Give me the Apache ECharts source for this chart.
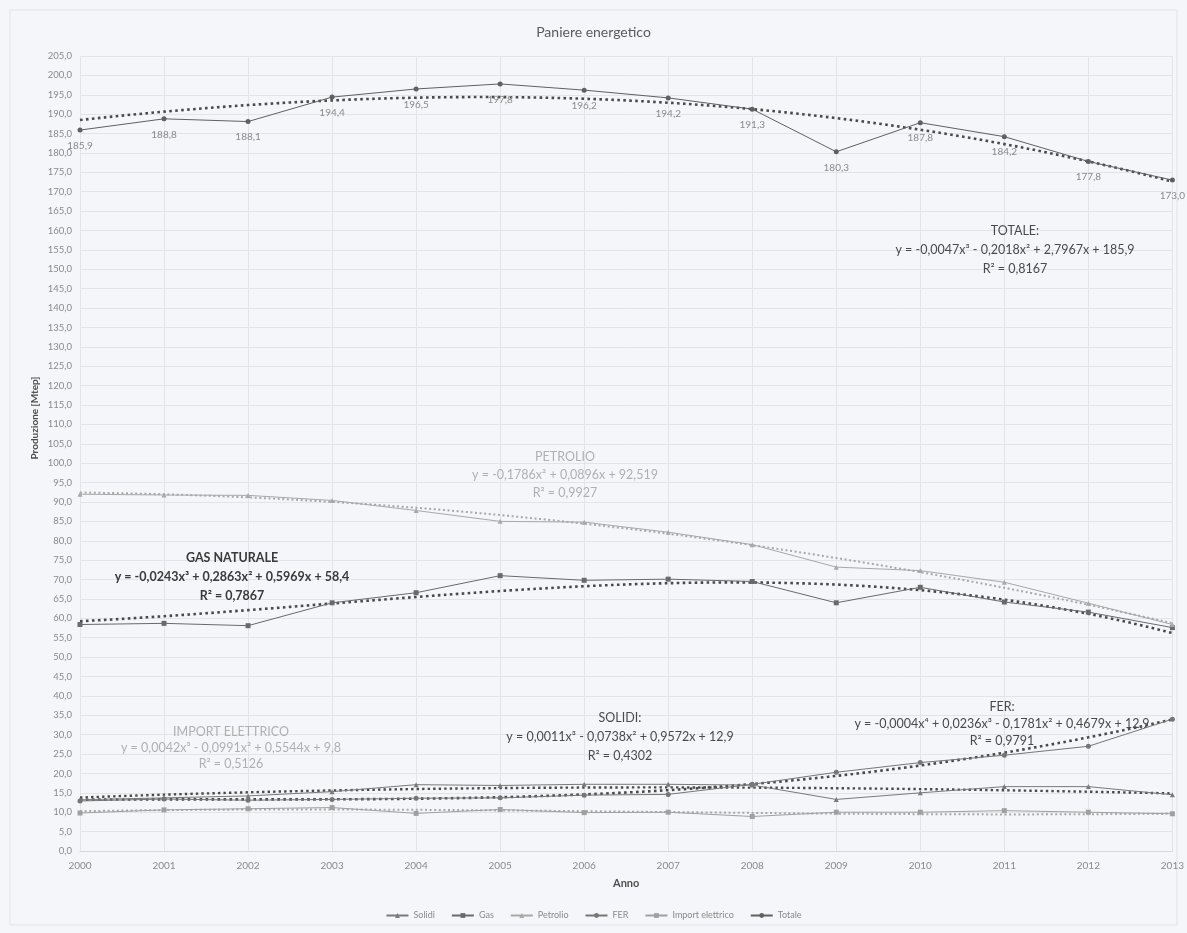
<!DOCTYPE html>
<html>
<head>
<meta charset="utf-8">
<title>Paniere energetico</title>
<script src="https://cdn.jsdelivr.net/npm/echarts@6/dist/echarts.min.js"></script>
<style>
  html, body { margin: 0; padding: 0; background: #f5f6fa; }
  #chart { width: 1187px; height: 933px; }
</style>
</head>
<body>
<div id="chart"></div>
<script>
// Anni (asse X)
const years = [2000, 2001, 2002, 2003, 2004, 2005, 2006, 2007, 2008, 2009, 2010, 2011, 2012, 2013];

// Produzione per fonte [Mtep]
const solidi   = [13.2, 13.7, 14.2, 15.3, 17.1, 16.9, 17.2, 17.2, 17.0, 13.3, 15.0, 16.6, 16.6, 14.5];
const gas      = [58.4, 58.7, 58.1, 64.0, 66.6, 71.0, 69.8, 70.1, 69.5, 64.0, 68.0, 64.2, 61.6, 57.6];
const petrolio = [92.0, 91.8, 91.7, 90.4, 87.8, 85.0, 84.8, 82.2, 79.0, 73.2, 72.3, 69.3, 63.9, 58.4];
const fer      = [12.9, 13.4, 13.1, 13.3, 13.6, 13.7, 14.4, 14.6, 17.2, 20.3, 22.8, 24.7, 27.0, 34.0];
const importEl = [9.8, 10.6, 10.9, 11.2, 9.7, 10.7, 9.9, 10.0, 8.9, 10.0, 10.0, 10.4, 10.0, 9.6];
const totale   = [185.9, 188.8, 188.1, 194.4, 196.5, 197.8, 196.2, 194.2, 191.3, 180.3, 187.8, 184.2, 177.8, 173.0];

// Coefficienti delle linee di tendenza polinomiali (c0 + c1*x + c2*x^2 + ...), x = 1 per il 2000
const trendTotale   = [185.9, 2.7967, -0.2018, -0.0047];
const trendPetrolio = [92.519, 0.0896, -0.1786];
const trendGas      = [58.4, 0.5969, 0.2863, -0.0243];
const trendFer      = [12.9, 0.4679, -0.1781, 0.0236, -0.0004];
const trendSolidi   = [12.9, 0.9572, -0.0738, 0.0011];
const trendImport   = [9.8, 0.5544, -0.0991, 0.0042];

// Etichette delle equazioni
const labelTotale   = ['TOTALE:', 'y = -0,0047x³ - 0,2018x² + 2,7967x + 185,9', 'R² = 0,8167'];
const labelPetrolio = ['PETROLIO', 'y = -0,1786x² + 0,0896x + 92,519', 'R² = 0,9927'];
const labelGas      = ['GAS NATURALE', 'y = -0,0243x³ + 0,2863x² + 0,5969x + 58,4', 'R² = 0,7867'];
const labelFer      = ['FER:', 'y = -0,0004x⁴ + 0,0236x³ - 0,1781x² + 0,4679x + 12,9', 'R² = 0,9791'];
const labelSolidi   = ['SOLIDI:', 'y = 0,0011x³ - 0,0738x² + 0,9572x + 12,9', 'R² = 0,4302'];
const labelImport   = ['IMPORT ELETTRICO', 'y = 0,0042x³ - 0,0991x² + 0,5544x + 9,8', 'R² = 0,5126'];

const FONT = 'Lato, "Open Sans", sans-serif';
const fmt = v => v.toFixed(1).replace('.', ',');

function pairs(values) {
  return years.map((y, i) => [y, values[i]]);
}

// Valuta il polinomio di tendenza lungo l'asse degli anni
function trendCurve(coef) {
  const pts = [];
  for (let k = 0; k <= 130; k++) {
    const year = years[0] + k / 10;
    const x = year - years[0] + 1;
    let v = 0;
    for (let p = coef.length - 1; p >= 0; p--) v = v * x + coef[p];
    pts.push([year, v]);
  }
  return pts;
}

function dataSeries(name, values, symbol, color, extra) {
  return Object.assign({
    name: name,
    type: 'line',
    data: pairs(values),
    symbol: symbol,
    symbolSize: 5,
    showAllSymbol: true,
    itemStyle: { color: color },
    lineStyle: { color: color, width: 1 },
    z: 3
  }, extra || {});
}

function trendSeries(coef, color, width) {
  return {
    type: 'line',
    data: trendCurve(coef),
    symbol: 'none',
    silent: true,
    lineStyle: { color: color, width: width, type: [width, width * 1.3], cap: 'butt' },
    z: 2
  };
}

function eqText(lines, cx, y0, color, bold, gap) {
  return lines.map((t, i) => ({
    type: 'text',
    x: cx,
    y: y0 + i * (gap || 19),
    style: {
      text: t,
      fill: color,
      font: (bold ? 'bold ' : '') + '12.5px ' + FONT,
      textAlign: 'center',
      textVerticalAlign: 'middle'
    },
    z: 10
  }));
}

const chart = echarts.init(document.getElementById('chart'));

chart.setOption({
  backgroundColor: '#f5f6fa',
  animation: false,
  title: {
    text: 'Paniere energetico',
    left: 'center',
    top: 20,
    textStyle: { fontFamily: FONT, fontSize: 14, fontWeight: 'normal', color: '#5a5a5a' }
  },
  grid: { left: 80, right: 14, top: 56, bottom: 82, containLabel: false },
  legend: {
    bottom: 8,
    left: 'center',
    itemWidth: 22,
    itemHeight: 6,
    itemGap: 16,
    textStyle: { fontFamily: FONT, fontSize: 9, color: '#8a8a8a' },
    data: ['Solidi', 'Gas', 'Petrolio', 'FER', 'Import elettrico', 'Totale']
  },
  xAxis: {
    type: 'value',
    min: 2000,
    max: 2013,
    interval: 1,
    name: 'Anno',
    nameLocation: 'middle',
    nameGap: 27,
    nameTextStyle: { fontFamily: FONT, fontSize: 11, fontWeight: 'bold', color: '#505050' },
    axisLine: { show: true, lineStyle: { color: '#d6d8dc' } },
    axisTick: { show: false },
    axisLabel: { fontFamily: FONT, fontSize: 10, color: '#8a8a8a', margin: 10, formatter: v => String(v) },
    splitLine: { show: true, lineStyle: { color: '#e2e4e8', width: 1 } }
  },
  yAxis: {
    type: 'value',
    min: 0,
    max: 205,
    interval: 5,
    axisLine: { show: false },
    axisTick: { show: false },
    axisLabel: { fontFamily: FONT, fontSize: 9.5, color: '#8a8a8a', margin: 8, formatter: v => fmt(v) },
    splitLine: { show: true, lineStyle: { color: '#e2e4e8', width: 1 } }
  },
  graphic: [
    {
      type: 'rect',
      shape: { x: 10, y: 10, width: 1167, height: 915 },
      style: { fill: 'none', stroke: '#e1e3e7', lineWidth: 1 },
      silent: true
    },
    {
      type: 'text',
      x: 35,
      y: 418,
      rotation: Math.PI / 2,
      style: {
        text: 'Produzione [Mtep]',
        fill: '#505050',
        font: 'bold 10px ' + FONT,
        textAlign: 'center',
        textVerticalAlign: 'middle'
      }
    }
  ]
    .concat(eqText(labelTotale, 1015, 231, '#4a4a4a', false))
    .concat(eqText(labelPetrolio, 565, 457, '#b0b0b0', false, 18))
    .concat(eqText(labelGas, 232, 558, '#3a3a3a', true))
    .concat(eqText(labelFer, 1002, 707, '#4a4a4a', false, 17))
    .concat(eqText(labelSolidi, 620, 718, '#4a4a4a', false))
    .concat(eqText(labelImport, 231, 732, '#b0b0b0', false, 16)),
  series: [
    dataSeries('Solidi', solidi, 'triangle', '#7a7a7a'),
    dataSeries('Gas', gas, 'rect', '#6a6a6a'),
    dataSeries('Petrolio', petrolio, 'triangle', '#a8a8a8'),
    dataSeries('FER', fer, 'circle', '#767676'),
    dataSeries('Import elettrico', importEl, 'rect', '#a0a0a0'),
    dataSeries('Totale', totale, 'circle', '#606060', {
      label: {
        show: true,
        position: 'bottom',
        distance: 8,
        fontFamily: FONT,
        fontSize: 10,
        color: '#8a8a8a',
        formatter: p => fmt(p.value[1])
      }
    }),
    trendSeries(trendTotale, '#4a4a4a', 2.6),
    trendSeries(trendPetrolio, '#a8a8a8', 2),
    trendSeries(trendGas, '#4a4a4a', 2.6),
    trendSeries(trendFer, '#4a4a4a', 2.6),
    trendSeries(trendSolidi, '#4a4a4a', 2.4),
    trendSeries(trendImport, '#a8a8a8', 2)
  ]
});
</script>
</body>
</html>
